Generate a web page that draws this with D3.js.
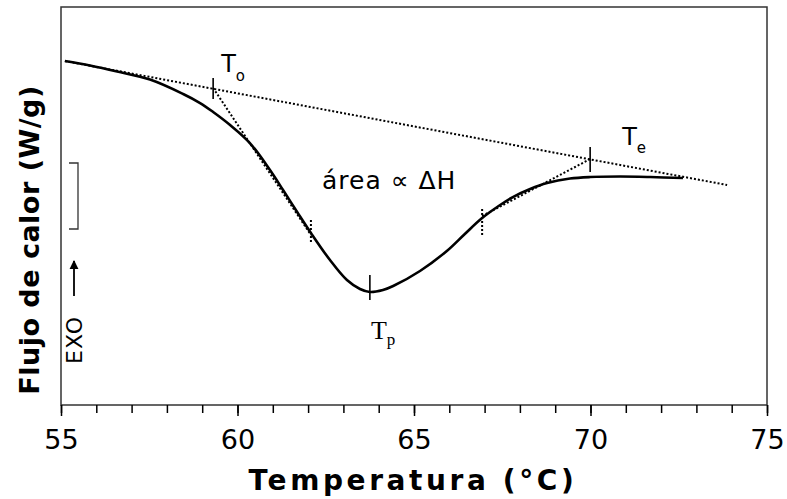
<!DOCTYPE html>
<html>
<head>
<meta charset="utf-8">
<script src="https://cdn.jsdelivr.net/npm/d3@7"></script>
<style>
	body { margin: 0; background: #fff; }
	.comic { font-family: "Comic Sans MS", "DejaVu Sans", sans-serif; }
</style>
</head>
<body>
<script>
//DSC thermogram data (temperature in °C, heat flow in arbitrary W/g units)
var temps = [55.11, 55.82, 56.59, 57.52, 58.46, 58.94, 59.31, 59.79, 60.35, 60.92, 61.29, 61.69, 62.08, 62.62,
	63.10, 63.47, 63.75, 64.12, 64.41, 65.17, 65.93, 66.44, 66.93, 67.44, 67.80, 68.29, 68.77, 69.42, 69.99,
	70.84, 71.69, 72.62];
var heatFlow = [3.457, 3.412, 3.352, 3.271, 3.126, 3.035, 2.945, 2.814, 2.633, 2.362, 2.161, 1.940, 1.729, 1.457,
	1.256, 1.166, 1.136, 1.156, 1.196, 1.347, 1.548, 1.719, 1.879, 2.010, 2.090, 2.171, 2.231, 2.276, 2.291,
	2.296, 2.291, 2.281];

//extrapolated baseline (two end points)
var baselineT = [55.11, 73.87];
var baselineV = [3.457, 2.211];

//tangents at the inflection points
var onsetTangentT = [59.31, 62.08];
var onsetTangentV = [3.186, 1.709];
var endTangentT = [66.93, 69.99];
var endTangentV = [1.899, 2.472];

//dotted markers at the inflection points [T, vLow, vHigh]
var inflections = [[62.08, 1.638, 1.879], [66.93, 1.709, 1.980]];
//solid markers for To, Tp, Te [T, vLow, vHigh]
var markers = [[59.31, 3.075, 3.286], [63.75, 1.055, 1.307], [69.99, 2.342, 2.593]];

var xTicks = [55, 60, 65, 70, 75];

window.onload = function(){
	var w = 787, h = 499;
	var left = 61, right = 767, top = 7, bottom = 405;

	var svg = d3.select("body").append("svg")
		.attr("width", w)
		.attr("height", h)
		.style("background", "#fff");

	var x = d3.scaleLinear().domain([55, 75]).range([left, right]);
	var y = d3.scaleLinear().domain([0, 4]).range([bottom, bottom - 398]);

	//frame
	svg.append("rect")
		.attr("x", left).attr("y", top)
		.attr("width", right - left).attr("height", bottom - top)
		.attr("fill", "none")
		.attr("stroke", "#333")
		.attr("stroke-width", 1.5);

	//minor ticks
	var xMinor = d3.axisBottom(x).ticks(20).tickSize(8).tickFormat("");
	svg.append("g").attr("class", "minor")
		.attr("transform", "translate(0," + bottom + ")")
		.call(xMinor)
		.call(function(g){ g.select(".domain").remove(); })
		.selectAll("line").attr("stroke", "#000").attr("stroke-width", 1.5);

	//major ticks and labels
	var xAxis = d3.axisBottom(x).tickValues(xTicks).tickSize(11).tickPadding(14);
	var ax = svg.append("g").attr("class", "axis comic")
		.attr("transform", "translate(0," + bottom + ")")
		.call(xAxis);
	ax.select(".domain").remove();
	ax.selectAll("line").attr("stroke", "#000").attr("stroke-width", 1.5);
	ax.selectAll("text")
		.attr("font-family", "\"Comic Sans MS\", \"DejaVu Sans\", sans-serif")
		.attr("font-size", 27)
		.attr("fill", "#000");

	//axis titles
	svg.append("text")
		.attr("class", "comic")
		.attr("x", 413).attr("y", 490)
		.attr("text-anchor", "middle")
		.attr("font-size", 28)
		.attr("font-weight", "bold")
		.attr("letter-spacing", 3.6)
		.text("Temperatura (°C)");

	svg.append("text")
		.attr("class", "comic")
		.attr("transform", "translate(39,240) rotate(-90)")
		.attr("text-anchor", "middle")
		.attr("font-size", 27)
		.attr("font-weight", "bold")
		.attr("letter-spacing", 0.5)
		.text("Flujo de calor (W/g)");

	//dotted construction lines
	var seg = d3.line()
		.x(function(d){ return x(d[0]); })
		.y(function(d){ return y(d[1]); });

	var dotted = [
		d3.zip(baselineT, baselineV),
		d3.zip(onsetTangentT, onsetTangentV),
		d3.zip(endTangentT, endTangentV)
	];
	svg.selectAll(".dotted")
		.data(dotted)
		.enter().append("path")
		.attr("class", "dotted")
		.attr("d", seg)
		.attr("fill", "none")
		.attr("stroke", "#000")
		.attr("stroke-width", 2)
		.attr("stroke-dasharray", "2,2");

	svg.selectAll(".inflection")
		.data(inflections)
		.enter().append("line")
		.attr("class", "inflection")
		.attr("x1", function(d){ return x(d[0]); })
		.attr("x2", function(d){ return x(d[0]); })
		.attr("y1", function(d){ return y(d[1]); })
		.attr("y2", function(d){ return y(d[2]); })
		.attr("stroke", "#000")
		.attr("stroke-width", 2)
		.attr("stroke-dasharray", "2,2");

	//thermogram curve
	var curve = d3.line()
		.x(function(d){ return x(d[0]); })
		.y(function(d){ return y(d[1]); })
		.curve(d3.curveCatmullRom.alpha(0.5));
	svg.append("path")
		.datum(d3.zip(temps, heatFlow))
		.attr("d", curve)
		.attr("fill", "none")
		.attr("stroke", "#000")
		.attr("stroke-width", 2.6)
		.attr("stroke-linejoin", "round");

	//To, Tp, Te markers
	svg.selectAll(".marker")
		.data(markers)
		.enter().append("line")
		.attr("class", "marker")
		.attr("x1", function(d){ return x(d[0]); })
		.attr("x2", function(d){ return x(d[0]); })
		.attr("y1", function(d){ return y(d[1]); })
		.attr("y2", function(d){ return y(d[2]); })
		.attr("stroke", "#000")
		.attr("stroke-width", 1.6);

	//labels
	var to = svg.append("text").attr("class", "comic")
		.attr("x", x(59.31) + 8).attr("y", 72).attr("font-size", 24);
	to.append("tspan").text("T");
	to.append("tspan").attr("dy", 9).attr("font-size", 15).text("o");

	var te = svg.append("text").attr("class", "comic")
		.attr("x", x(69.99) + 32).attr("y", 145).attr("font-size", 24);
	te.append("tspan").text("T");
	te.append("tspan").attr("dy", 8).attr("font-size", 15).text("e");

	var tp = svg.append("text")
		.attr("x", x(63.75) + 1).attr("y", 339)
		.attr("font-family", "\"Liberation Serif\", \"Times New Roman\", serif")
		.attr("font-size", 26);
	tp.append("tspan").text("T");
	tp.append("tspan").attr("dy", 6).attr("font-size", 17).text("p");

	svg.append("text").attr("class", "comic")
		.attr("x", 322).attr("y", 189)
		.attr("font-size", 25)
		.attr("letter-spacing", 1)
		.text("área ∝ ΔH");

	//EXO arrow and scale bracket
	svg.append("text").attr("class", "comic")
		.attr("transform", "translate(82,340) rotate(-90)")
		.attr("text-anchor", "middle")
		.attr("font-size", 22)
		.attr("letter-spacing", 1)
		.text("EXO");

	var defs = svg.append("defs");
	defs.append("marker")
		.attr("id", "arrow")
		.attr("viewBox", "0 0 10 10")
		.attr("refX", 9).attr("refY", 5)
		.attr("markerWidth", 5).attr("markerHeight", 6)
		.attr("markerUnits", "strokeWidth")
		.attr("orient", "auto")
		.append("path").attr("d", "M0,0L10,5L0,10Z").attr("fill", "#000");

	svg.append("line")
		.attr("x1", 74).attr("x2", 74)
		.attr("y1", 296).attr("y2", 261)
		.attr("stroke", "#000")
		.attr("stroke-width", 1.8)
		.attr("marker-end", "url(#arrow)");

	svg.append("path")
		.attr("d", "M69,163H78V229H69")
		.attr("fill", "none")
		.attr("stroke", "#333")
		.attr("stroke-width", 1.3);
};
</script>
</body>
</html>
